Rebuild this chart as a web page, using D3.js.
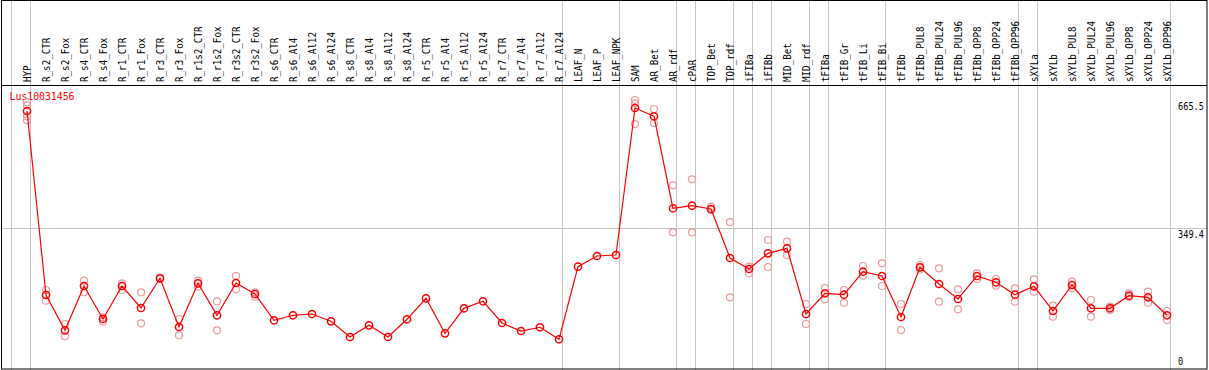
<!DOCTYPE html>
<html>
<head>
<meta charset="utf-8">
<script src="https://cdn.jsdelivr.net/npm/d3@7"></script>
<style>
  body { margin: 0; background: #fff; }
  svg { display: block; }
  text { font-family: "DejaVu Sans Mono", monospace; }
</style>
</head>
<body>
<svg id="chart" width="1209" height="370"></svg>
<script>
const geneName = "Lus10031456";

const samples = [
  "HYP",
  "R_s2_CTR", "R_s2_Fox", "R_s4_CTR", "R_s4_Fox", "R_r1_CTR", "R_r1_Fox", "R_r3_CTR", "R_r3_Fox",
  "R_r1s2_CTR", "R_r1s2_Fox", "R_r3s2_CTR", "R_r3s2_Fox",
  "R_s6_CTR", "R_s6_Al4", "R_s6_Al12", "R_s6_Al24", "R_s8_CTR", "R_s8_Al4", "R_s8_Al12", "R_s8_Al24",
  "R_r5_CTR", "R_r5_Al4", "R_r5_Al12", "R_r5_Al24", "R_r7_CTR", "R_r7_Al4", "R_r7_Al12", "R_r7_Al24",
  "LEAF_N", "LEAF_P", "LEAF_NPK",
  "SAM", "AR_Bet", "AR_rdf",
  "cPAR",
  "TOP_Bet", "TOP_rdf",
  "iFIBa",
  "iFIBb",
  "MID_Bet", "MID_rdf",
  "tFIBa",
  "tFIB_Gr", "tFIB_Li", "tFIB_Bi",
  "tFIBb", "tFIBb_PUL8", "tFIBb_PUL24", "tFIBb_PUL96", "tFIBb_OPP8", "tFIBb_OPP24", "tFIBb_OPP96",
  "sXYLa",
  "sXYLb", "sXYLb_PUL8", "sXYLb_PUL24", "sXYLb_PUL96", "sXYLb_OPP8", "sXYLb_OPP24", "sXYLb_OPP96"
];

// number of samples in each tissue group (separators drawn between groups)
const groupSizes = [1, 28, 3, 3, 1, 2, 1, 1, 2, 1, 3, 7, 1, 7];

const means = [
  638.3,
  183.1, 95.7, 205.3, 123.7, 205.3, 150.9, 224.4, 103.9,
  212.0, 132.9, 212.8, 185.6,
  120.5, 132.9, 136.1, 118.0, 79.2, 108.1, 79.2, 123.0,
  174.9, 88.3, 150.2, 167.5, 113.8, 94.0, 103.2, 73.5,
  253.1, 279.6, 282.0,
  645.7, 625.2, 397.6,
  404.0,
  395.8, 274.6,
  247.4,
  286.2,
  298.6, 136.1,
  187.3,
  183.8, 240.7, 230.1,
  128.6, 251.6, 210.3, 173.2, 230.1, 214.5, 183.8,
  204.6,
  143.5, 207.8, 150.2, 150.2, 181.3, 177.4, 132.9
];

const replicates = [
  [660.0, 652.4, 625.2, 615.3],
  [195.4, 169.0], [111.3, 80.9], [218.5, 189.8], [127.9, 117.0], [212.0, 195.4], [189.8, 113.1], [222.7, 226.4], [123.7, 83.4],
  [218.5, 203.6], [167.5, 95.7], [230.1, 197.2], [189.8, 178.9],
  [], [], [], [], [], [], [], [],
  [], [], [], [], [], [], [], [],
  [], [], [],
  [665.5, 657.0, 606.0], [643.2, 608.6], [454.5, 338.2],
  [469.3, 338.2],
  [401.5, 393.4], [363.4, 177.4],
  [253.1, 236.8],
  [319.1, 252.3],
  [314.9, 282.0], [160.8, 111.3],
  [200.4, 172.4],
  [195.4, 164.0], [254.8, 230.8], [261.5, 205.3],
  [160.8, 96.5], [257.3, 246.2], [249.1, 166.5], [197.2, 147.7], [236.8, 222.7], [222.7, 206.1], [199.7, 166.5],
  [221.9, 191.2],
  [156.6, 129.4], [216.0, 199.7], [170.7, 129.4], [154.1, 146.0], [187.3, 178.1], [191.2, 164.0], [143.5, 121.2]
];

const yTicks = [0, 349.4, 665.5];

const svg = d3.select("#chart"),
    width = +svg.attr("width"),
    height = +svg.attr("height");

const headerBottom = 85;
const plotBottom = 369;
const rightEdge = 1207;

const x = d3.scalePoint()
    .domain(samples)
    .range([27, 1167]);
const step = x.step();

const y = d3.scaleLinear()
    .domain([0, 665.5])
    .range([plotBottom, 100]);

// group separators
let bounds = [-1];
let acc = -1;
groupSizes.forEach(n => { acc += n; bounds.push(acc); });

svg.append("g")
    .selectAll("line")
    .data(bounds)
    .join("line")
    .attr("x1", i => Math.floor(x.range()[0] + step * i + 3.5) + 0.5)
    .attr("x2", i => Math.floor(x.range()[0] + step * i + 3.5) + 0.5)
    .attr("y1", 0)
    .attr("y2", height)
    .attr("stroke", "#c4c4c4")
    .attr("stroke-width", 1);

// horizontal grid at middle tick
svg.append("line")
    .attr("x1", 1).attr("x2", rightEdge)
    .attr("y1", Math.round(y(349.4)) + 0.5)
    .attr("y2", Math.round(y(349.4)) + 0.5)
    .attr("stroke", "#c4c4c4");

// frame
svg.append("rect")
    .attr("x", 1.5).attr("y", 0.5)
    .attr("width", rightEdge - 1.5).attr("height", plotBottom - 0.5)
    .attr("fill", "none")
    .attr("stroke", "#000")
    .attr("stroke-width", 1);

svg.append("line")
    .attr("x1", 1).attr("x2", rightEdge)
    .attr("y1", headerBottom + 0.5).attr("y2", headerBottom + 0.5)
    .attr("stroke", "#000");

// sample labels (rotated)
svg.append("g")
    .selectAll("text")
    .data(samples)
    .join("text")
    .attr("transform", d => `translate(${x(d) + 4},82) rotate(-90)`)
    .attr("font-size", 11)
    .attr("textLength", d => d.length * 5.55)
    .attr("lengthAdjust", "spacingAndGlyphs")
    .attr("fill", "#000")
    .text(d => d);

// y tick labels on the right
svg.append("g")
    .selectAll("text")
    .data(yTicks)
    .join("text")
    .attr("x", 1178)
    .attr("y", d => Math.min(y(d) + 10, 365))
    .attr("font-size", 10)
    .attr("textLength", d => String(d).length * 5.2)
    .attr("lengthAdjust", "spacingAndGlyphs")
    .attr("fill", "#000")
    .text(d => d);

// gene name
svg.append("text")
    .attr("x", 9.5)
    .attr("y", 100)
    .attr("font-size", 10)
    .attr("textLength", 65)
    .attr("lengthAdjust", "spacingAndGlyphs")
    .attr("fill", "#f00")
    .text(geneName);

// replicate points
const repPoints = [];
replicates.forEach((reps, i) => reps.forEach(v => repPoints.push([samples[i], v])));

svg.append("g")
    .selectAll("circle")
    .data(repPoints)
    .join("circle")
    .attr("cx", d => x(d[0]))
    .attr("cy", d => y(d[1]))
    .attr("r", 3.5)
    .attr("fill", "none")
    .attr("stroke", "#ee9999")
    .attr("stroke-width", 1.2);

// mean line
const line = d3.line()
    .x((d, i) => x(samples[i]))
    .y(d => y(d));

svg.append("path")
    .datum(means)
    .attr("d", line)
    .attr("fill", "none")
    .attr("stroke", "#f00")
    .attr("stroke-width", 1.2);

svg.append("g")
    .selectAll("circle")
    .data(means)
    .join("circle")
    .attr("cx", (d, i) => x(samples[i]))
    .attr("cy", d => y(d))
    .attr("r", 3.6)
    .attr("fill", "none")
    .attr("stroke", "#f00")
    .attr("stroke-width", 1.5);
</script>
</body>
</html>
